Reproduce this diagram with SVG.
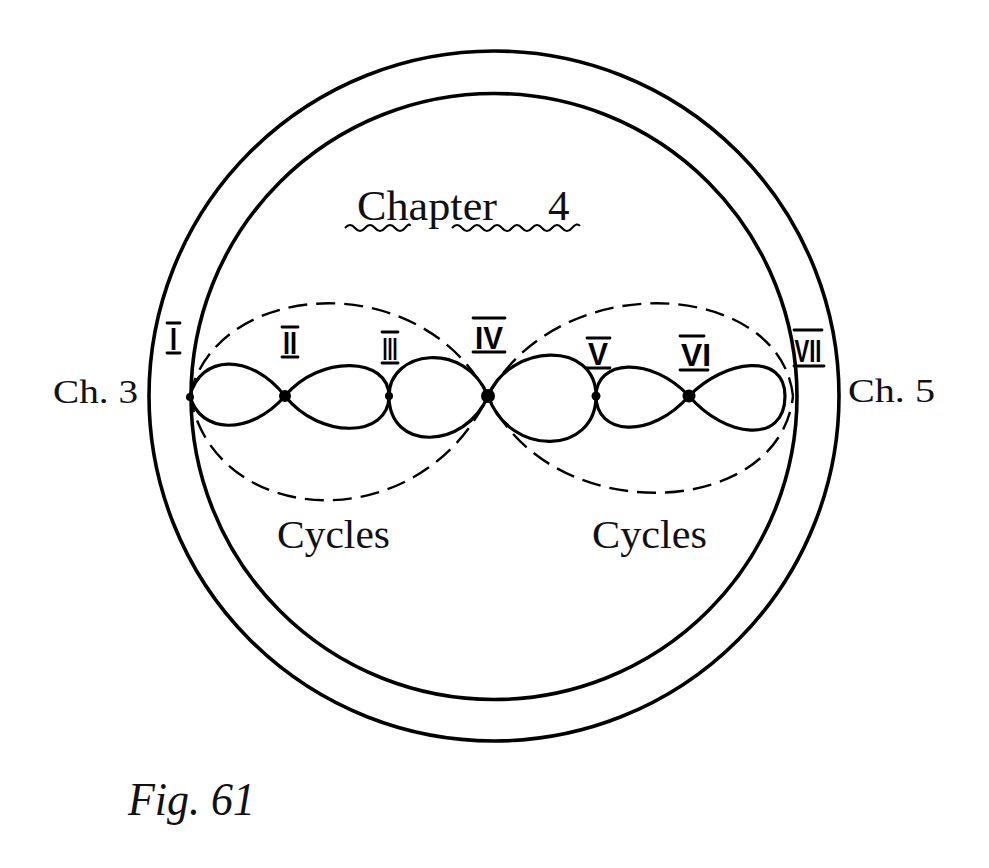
<svg xmlns="http://www.w3.org/2000/svg" width="989" height="868" viewBox="0 0 989 868">
<style>
  .ring { fill: none; stroke: #000; stroke-width: 3.6; }
  .loop { fill: none; stroke: #000; stroke-width: 3.2; stroke-linejoin: round; }
  .dash { fill: none; stroke: #000; stroke-width: 2.4; stroke-dasharray: 19 9; }
  .bar { stroke: #000; stroke-width: 2.8; stroke-linecap: round; }
  .num { font-family: "Liberation Sans", "DejaVu Sans", sans-serif; font-size: 32px; font-weight: bold; fill: #000; text-anchor: middle; }
  .lbl { font-family: "Liberation Serif", "DejaVu Serif", serif; fill: #111; }
  .wave { fill: none; stroke: #000; stroke-width: 2; }
  .dot { fill: #000; }
</style>
<rect width="989" height="868" fill="#fff"/>

<g id="rings">
  <circle class="ring" cx="494" cy="396" r="345"/>
  <circle class="ring" cx="494" cy="396.5" r="303"/>
</g>

<g id="connectors">
  <!-- dashed figure-eight -->
  <path class="dash" d="M190,396 C215,280 420,265 488,396 C550,530 780,520 793,396"/>
  <path class="dash" d="M793,396 C780,280 560,265 488,396 C420,540 215,530 190,396"/>
  <!-- solid lobes -->
  <path class="loop" d="M190,396 C200,355 250,352 285,396 C320,440 389,438 389,396 C389,350 465,340 488,396 C510,458 596,455 596,396 C596,360 650,355 689,396 C725,438 785,445 785,396"/>
  <path class="loop" d="M190,396 C200,434 250,436 285,396 C320,354 389,357 389,396 C389,452 465,450 488,396 C510,343 596,340 596,396 C596,435 650,440 689,396 C725,359 785,352 785,396"/>
</g>

<g id="node-I">
  <circle class="dot" cx="190" cy="397" r="4"/>
  <line class="bar" x1="167" y1="323" x2="180" y2="323"/>
  <text class="num" x="173.5" y="350" textLength="7" lengthAdjust="spacingAndGlyphs">I</text>
  <line class="bar" x1="167" y1="353" x2="180" y2="353"/>
</g>
<g id="node-II">
  <circle class="dot" cx="285" cy="396" r="6"/>
  <line class="bar" x1="282" y1="327" x2="298" y2="327"/>
  <text class="num" x="290" y="354" textLength="14" lengthAdjust="spacingAndGlyphs">II</text>
  <line class="bar" x1="282" y1="357" x2="298" y2="357"/>
</g>
<g id="node-III">
  <circle class="dot" cx="389" cy="396" r="4"/>
  <line class="bar" x1="382" y1="332" x2="398" y2="332"/>
  <text class="num" x="390" y="360" textLength="15" lengthAdjust="spacingAndGlyphs">III</text>
  <line class="bar" x1="382" y1="363" x2="398" y2="363"/>
</g>
<g id="node-IV">
  <circle class="dot" cx="488" cy="396" r="7"/>
  <line class="bar" x1="473" y1="318" x2="505" y2="318"/>
  <text class="num" x="489" y="349" textLength="28" lengthAdjust="spacingAndGlyphs">IV</text>
  <line class="bar" x1="473" y1="352" x2="505" y2="352"/>
</g>
<g id="node-V">
  <circle class="dot" cx="596" cy="396" r="4.5"/>
  <line class="bar" x1="587" y1="338" x2="610" y2="338"/>
  <text class="num" x="598" y="365" textLength="20" lengthAdjust="spacingAndGlyphs">V</text>
  <line class="bar" x1="587" y1="368" x2="610" y2="368"/>
</g>
<g id="node-VI">
  <circle class="dot" cx="689" cy="396" r="6.5"/>
  <line class="bar" x1="680" y1="336" x2="704" y2="336"/>
  <text class="num" x="696" y="366" textLength="30" lengthAdjust="spacingAndGlyphs">VI</text>
  <line class="bar" x1="680" y1="370" x2="708" y2="370"/>
</g>
<g id="node-VII">
  <line class="bar" x1="794" y1="330" x2="822" y2="330"/>
  <text class="num" x="808" y="362" textLength="27" lengthAdjust="spacingAndGlyphs">VII</text>
  <line class="bar" x1="794" y1="366" x2="824" y2="366"/>
</g>

<g id="title">
  <text class="lbl" x="357" y="220" font-size="43" textLength="140" lengthAdjust="spacingAndGlyphs">Chapter</text>
  <text class="lbl" x="548" y="220" font-size="43">4</text>
  <path class="wave" d="M345,228 q5,-6 10,0 t10,0 t10,0 t10,0 t10,0 t10,0 t5,-2"/>
  <path class="wave" d="M452,228 q5,-6 10,0 t10,0 t10,0 t10,0 t10,0 t10,0 t10,0 t10,0 t10,0 t10,0 t10,0 t10,0 t8,-2"/>
</g>

<g id="labels">
  <text class="lbl" x="53" y="403" font-size="34" textLength="85" lengthAdjust="spacingAndGlyphs">Ch. 3</text>
  <text class="lbl" x="848" y="402" font-size="34" textLength="87" lengthAdjust="spacingAndGlyphs">Ch. 5</text>
  <text class="lbl" x="277" y="548" font-size="39" textLength="113" lengthAdjust="spacingAndGlyphs">Cycles</text>
  <text class="lbl" x="592" y="548" font-size="39" textLength="115" lengthAdjust="spacingAndGlyphs">Cycles</text>
  <text class="lbl" x="128" y="815" font-size="46" font-style="italic" textLength="127" lengthAdjust="spacingAndGlyphs">Fig. 61</text>
</g>
</svg>
